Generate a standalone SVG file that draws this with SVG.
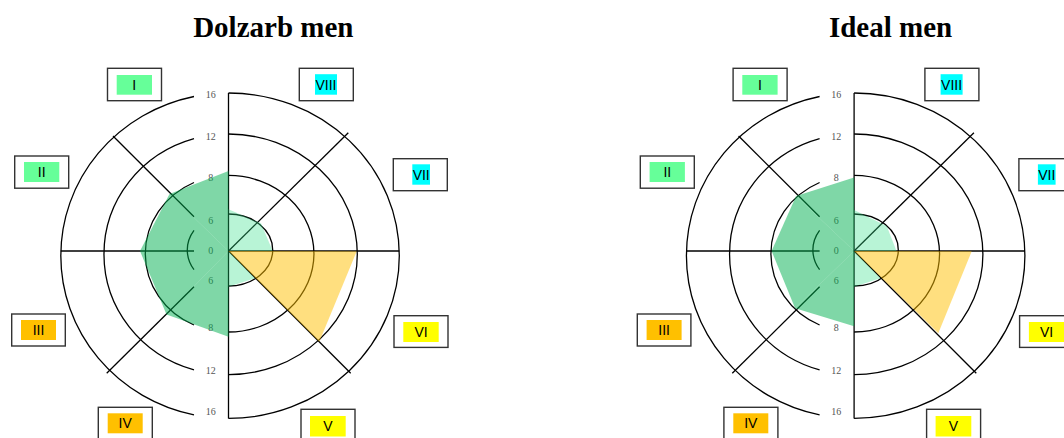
<svg xmlns="http://www.w3.org/2000/svg" width="1064" height="438" viewBox="0 0 1064 438">
<style>
.bg{fill:#ffffff}
.title{font-family:"Liberation Serif","Times New Roman",serif;font-weight:bold;font-size:29px;fill:#000;text-anchor:middle}
.ring,.axis{fill:none;stroke:#000;stroke-width:1.3}
.tick{font-family:"Liberation Serif","Times New Roman",serif;font-size:10px;fill:#555;text-anchor:middle}
.frame{fill:#fff;stroke:#333;stroke-width:1.4}
.lbl{font-family:"Liberation Sans",Arial,sans-serif;font-size:14px;fill:#000;text-anchor:middle}
.cg{fill:#66ff99}.co{fill:#ffc000}.cy{fill:#ffff00}.cc{fill:#00ffff}
.dg{fill:#00b050;fill-opacity:0.5}
.lg{fill:#33e08a;fill-opacity:0.35}
.yo{fill:#ffc000;fill-opacity:0.5}
</style>
<rect class="bg" x="0" y="0" width="1064" height="438"/>
<g id="title-left"><text class="title" x="273.3" y="37.3">Dolzarb men</text></g>
<g id="title-right"><text class="title" x="890.5" y="37.3">Ideal men</text></g>

<g id="chart-left">
  <g id="connectors-left">
    <path class="ring" d="M228.5,93 A170.8,162.7 0 0 1 228.5,418.4"/>
    <path class="ring" d="M194,96.5 A167.8,162.7 0 0 0 194,414.9"/>
    <path class="ring" d="M228.5,134 A128.8,120.3 0 0 1 228.5,374.6"/>
    <path class="ring" d="M194,138.7 A124.5,120.3 0 0 0 194,369.9"/>
    <path class="ring" d="M228.5,175.4 A85.5,78.3 0 0 1 228.5,332"/>
    <path class="ring" d="M194,182.5 A83.2,78.3 0 0 0 194,325"/>
    <path class="ring" d="M228.5,214 A44.2,36 0 0 1 228.5,286"/>
    <path class="ring" d="M194,230.3 A41.2,36 0 0 0 194,269.7"/>
    <line class="axis" x1="228.5" y1="93" x2="228.5" y2="418.4"/>
    <line class="axis" x1="60.7" y1="251" x2="194" y2="251"/>
    <line class="axis" x1="228.5" y1="251" x2="399.3" y2="251"/>
    <line class="axis" x1="228.5" y1="251" x2="348.3" y2="132.7"/>
    <line class="axis" x1="228.5" y1="251" x2="350.7" y2="373.3"/>
    <line class="axis" x1="113" y1="136" x2="194" y2="216.7"/>
    <line class="axis" x1="194" y1="286.7" x2="106.7" y2="373.3"/>
  </g>
  <g id="ticks-left">
    <text class="tick" x="210.7" y="98.2">16</text>
    <text class="tick" x="210.7" y="140.2">12</text>
    <text class="tick" x="210.7" y="180.8">8</text>
    <text class="tick" x="210.7" y="223.5">6</text>
    <text class="tick" x="210.7" y="253.5">0</text>
    <text class="tick" x="210.7" y="283.5">6</text>
    <text class="tick" x="210.7" y="330.8">8</text>
    <text class="tick" x="210.7" y="373.5">12</text>
    <text class="tick" x="210.7" y="415.2">16</text>
  </g>
  <g id="areas-left">
    <polygon class="dg" points="228.5,251 228.5,171 169.5,194"/>
    <polygon class="dg" points="228.5,251 169.5,194 140,251"/>
    <polygon class="dg" points="228.5,251 140,251 166.5,314.5"/>
    <polygon class="dg" points="228.5,251 166.5,314.5 228.5,336.7"/>
    <polygon class="lg" points="228.5,251 228.5,209.3 261,223.3"/>
    <polygon class="lg" points="228.5,251 261,223.3 272.7,251"/>
    <polygon class="lg" points="228.5,251 255,278.3 228.5,286.7"/>
    <polygon class="yo" points="228.5,251 356.7,251.3 319.3,341.7"/>
  </g>
  <g id="node-left-I"><rect class="frame" x="107.5" y="68.3" width="54" height="32.4"/><rect class="cg" x="116.7" y="75" width="35.3" height="19.7"/><text class="lbl" x="134.3" y="89.7">I</text></g>
  <g id="node-left-II"><rect class="frame" x="14.7" y="156" width="54" height="32.2"/><rect class="cg" x="24" y="162" width="35.3" height="20"/><text class="lbl" x="41.7" y="177">II</text></g>
  <g id="node-left-III"><rect class="frame" x="11.7" y="314" width="53.6" height="32"/><rect class="co" x="21" y="320" width="35" height="20"/><text class="lbl" x="38.5" y="335">III</text></g>
  <g id="node-left-IV"><rect class="frame" x="98.3" y="407.3" width="54" height="32.4"/><rect class="co" x="107.7" y="413.3" width="35" height="20"/><text class="lbl" x="125.2" y="428.3">IV</text></g>
  <g id="node-left-V"><rect class="frame" x="301" y="409.3" width="54" height="32.4"/><rect class="cy" x="310" y="416" width="35.7" height="20.5"/><text class="lbl" x="327.8" y="431.2">V</text></g>
  <g id="node-left-VI"><rect class="frame" x="394" y="315.7" width="54" height="31.7"/><rect class="cy" x="403.3" y="322" width="35.4" height="20"/><text class="lbl" x="421" y="337">VI</text></g>
  <g id="node-left-VII"><rect class="frame" x="393.3" y="158.7" width="54" height="32"/><rect class="cc" x="412.3" y="164.3" width="17.7" height="20.4"/><text class="lbl" x="421.2" y="179.7">VII</text></g>
  <g id="node-left-VIII"><rect class="frame" x="299.3" y="68.3" width="54" height="32.4"/><rect class="cc" x="315" y="74.2" width="22" height="20.5"/><text class="lbl" x="326" y="89.7">VIII</text></g>
</g>

<g id="chart-right" transform="translate(625.6,0)">
  <g id="connectors-right">
    <path class="ring" d="M228.5,93 A170.8,162.7 0 0 1 228.5,418.4"/>
    <path class="ring" d="M194,96.5 A167.8,162.7 0 0 0 194,414.9"/>
    <path class="ring" d="M228.5,134 A128.8,120.3 0 0 1 228.5,374.6"/>
    <path class="ring" d="M194,138.7 A124.5,120.3 0 0 0 194,369.9"/>
    <path class="ring" d="M228.5,175.4 A85.5,78.3 0 0 1 228.5,332"/>
    <path class="ring" d="M194,182.5 A83.2,78.3 0 0 0 194,325"/>
    <path class="ring" d="M228.5,214 A44.2,36 0 0 1 228.5,286"/>
    <path class="ring" d="M194,230.3 A41.2,36 0 0 0 194,269.7"/>
    <line class="axis" x1="228.5" y1="93" x2="228.5" y2="418.4"/>
    <line class="axis" x1="60.7" y1="251" x2="194" y2="251"/>
    <line class="axis" x1="228.5" y1="251" x2="399.3" y2="251"/>
    <line class="axis" x1="228.5" y1="251" x2="348.3" y2="132.7"/>
    <line class="axis" x1="228.5" y1="251" x2="350.7" y2="373.3"/>
    <line class="axis" x1="113" y1="136" x2="194" y2="216.7"/>
    <line class="axis" x1="194" y1="286.7" x2="106.7" y2="373.3"/>
  </g>
  <g id="ticks-right">
    <text class="tick" x="210.7" y="98.2">16</text>
    <text class="tick" x="210.7" y="140.2">12</text>
    <text class="tick" x="210.7" y="180.8">8</text>
    <text class="tick" x="210.7" y="223.5">6</text>
    <text class="tick" x="210.7" y="253.5">0</text>
    <text class="tick" x="210.7" y="283.5">6</text>
    <text class="tick" x="210.7" y="330.8">8</text>
    <text class="tick" x="210.7" y="373.5">12</text>
    <text class="tick" x="210.7" y="415.2">16</text>
  </g>
  <g id="areas-right">
    <polygon class="dg" points="228.5,251 228.5,177.5 170.5,196"/>
    <polygon class="dg" points="228.5,251 170.5,196 146,251"/>
    <polygon class="dg" points="228.5,251 146,251 169.5,308.3"/>
    <polygon class="dg" points="228.5,251 169.5,308.3 228.5,326.3"/>
    <polygon class="lg" points="228.5,251 228.5,210 261.1,226"/>
    <polygon class="lg" points="228.5,251 261.1,226 270.9,251"/>
    <polygon class="lg" points="228.5,251 254.9,278.3 228.5,286.7"/>
    <polygon class="yo" points="228.5,251 346.1,251.3 312.7,333.3"/>
  </g>
  <g id="node-right-I"><rect class="frame" x="107.5" y="68.3" width="54" height="32.4"/><rect class="cg" x="116.7" y="75" width="35.3" height="19.7"/><text class="lbl" x="134.3" y="89.7">I</text></g>
  <g id="node-right-II"><rect class="frame" x="14.7" y="156" width="54" height="32.2"/><rect class="cg" x="24" y="162" width="35.3" height="20"/><text class="lbl" x="41.7" y="177">II</text></g>
  <g id="node-right-III"><rect class="frame" x="11.7" y="314" width="53.6" height="32"/><rect class="co" x="21" y="320" width="35" height="20"/><text class="lbl" x="38.5" y="335">III</text></g>
  <g id="node-right-IV"><rect class="frame" x="98.3" y="407.3" width="54" height="32.4"/><rect class="co" x="107.7" y="413.3" width="35" height="20"/><text class="lbl" x="125.2" y="428.3">IV</text></g>
  <g id="node-right-V"><rect class="frame" x="301" y="409.3" width="54" height="32.4"/><rect class="cy" x="310" y="416" width="35.7" height="20.5"/><text class="lbl" x="327.8" y="431.2">V</text></g>
  <g id="node-right-VI"><rect class="frame" x="394" y="315.7" width="54" height="31.7"/><rect class="cy" x="403.3" y="322" width="35.4" height="20"/><text class="lbl" x="421" y="337">VI</text></g>
  <g id="node-right-VII"><rect class="frame" x="393.3" y="158.7" width="54" height="32"/><rect class="cc" x="412.3" y="164.3" width="17.7" height="20.4"/><text class="lbl" x="421.2" y="179.7">VII</text></g>
  <g id="node-right-VIII"><rect class="frame" x="299.3" y="68.3" width="54" height="32.4"/><rect class="cc" x="315" y="74.2" width="22" height="20.5"/><text class="lbl" x="326" y="89.7">VIII</text></g>
</g>
</svg>
